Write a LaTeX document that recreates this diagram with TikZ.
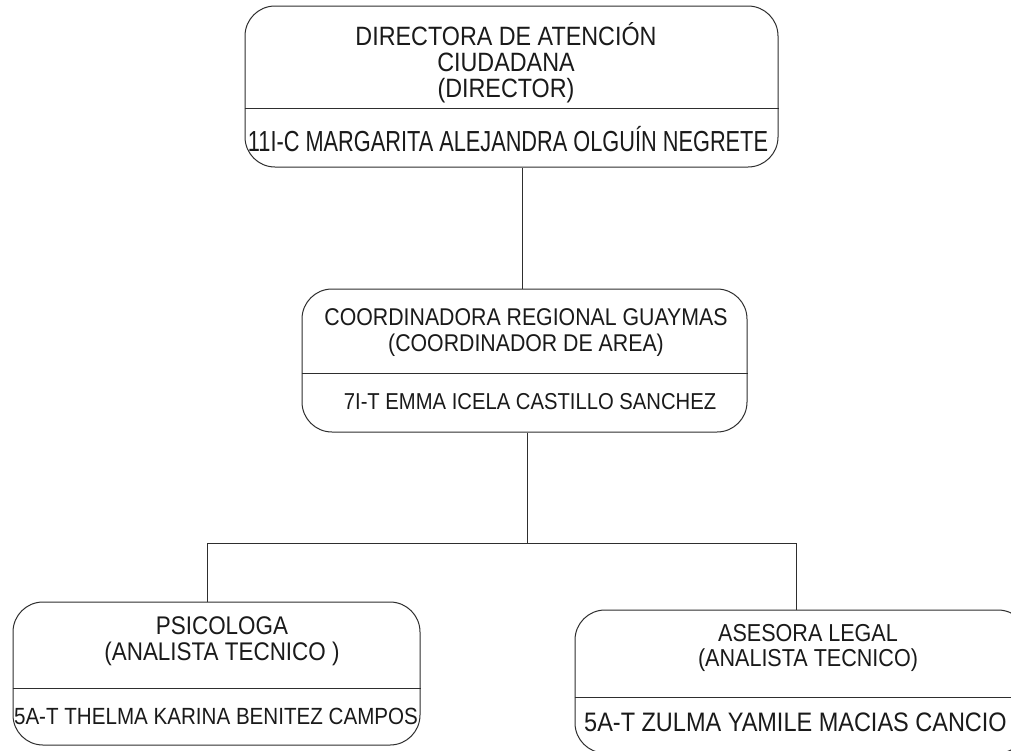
\documentclass[tikz,border=0pt]{standalone}
\usepackage{graphicx}
\usepackage{fontspec}
\setmainfont{Liberation Sans}[FakeStretch=0.88]
\newfontfamily\narrowfont{Liberation Sans}[FakeStretch=0.75]
\definecolor{ink}{HTML}{1A1A1A}
\definecolor{edge}{HTML}{2E2E2E}
\tikzset{
  box/.style={draw=edge, line width=1pt, rounded corners=30pt, inner sep=0pt, fill=none},
  conn/.style={draw=edge, line width=1pt},
  divline/.style={draw=edge, line width=1pt},
  lbl/.style={text=ink, align=center, inner sep=0pt},
}
\begin{document}
\begin{tikzpicture}[x=1pt, y=-1pt]
\fill[white] (0,0) rectangle (1011,750);
\useasboundingbox (0,0) rectangle (1011,750);
\clip (0,0) rectangle (1011,750);
% boxes
\node[box, minimum width=533pt, minimum height=161pt] (top) at (511.5,86.5) {};
\node[box, minimum width=445pt, minimum height=143pt] (mid) at (524.5,360.5) {};
\node[box, minimum width=407pt, minimum height=143pt] (left) at (216.5,673.5) {};
\node[box, minimum width=453pt, minimum height=143pt] (right) at (801.5,681.5) {};
% dividers
\coordinate (d1) at (0,108);
\coordinate (d2) at (0,373);
\coordinate (d3) at (0,688);
\coordinate (d4) at (0,697);
\draw[divline] (top.west |- d1) -- (top.east |- d1);
\draw[divline] (mid.west |- d2) -- (mid.east |- d2);
\draw[divline] (left.west |- d3) -- (left.east |- d3);
\draw[divline] (right.west |- d4) -- (right.east |- d4);
% texts
\node[lbl, font=\fontsize{26.5}{26}\selectfont] (toph) at (506,63) {DIRECTORA DE ATENCIÓN\\CIUDADANA\\(DIRECTOR)};
\node[lbl, font=\narrowfont\fontsize{29}{29}\selectfont] (topn) at (508,139) {11I-C MARGARITA ALEJANDRA OLGUÍN NEGRETE};
\node[lbl, font=\fontsize{24.2}{26}\selectfont] (midh) at (526,333) {COORDINADORA REGIONAL GUAYMAS\\(COORDINADOR DE AREA)};
\node[lbl, font=\fontsize{23}{23}\selectfont] (midn) at (530,402) {7I-T EMMA ICELA CASTILLO SANCHEZ};
\node[lbl, font=\fontsize{25.5}{25.5}\selectfont] (lefth) at (222,641) {PSICOLOGA\\(ANALISTA TECNICO )};
\node[lbl, font=\fontsize{23.4}{23.4}\selectfont] (leftn) at (216,716) {5A-T THELMA KARINA BENITEZ CAMPOS};
\node[lbl, font=\fontsize{24.5}{25.5}\selectfont] (righth) at (808,648) {ASESORA LEGAL\\(ANALISTA TECNICO)};
\node[lbl, font=\fontsize{26.7}{26.7}\selectfont, anchor=west] (rightn) at (584,722) {5A-T ZULMA YAMILE MACIAS CANCIO};
% connectors
\coordinate (bus) at (527,543);
\draw[conn] ([xshift=10.5pt]top.south) -- ([xshift=-2.5pt]mid.north);
\draw[conn] ([xshift=2.5pt]mid.south) -- (bus);
\draw[conn] ([xshift=-9.5pt]left.north) |- (bus) -| ([xshift=-5.5pt]right.north);
\end{tikzpicture}
\end{document}
